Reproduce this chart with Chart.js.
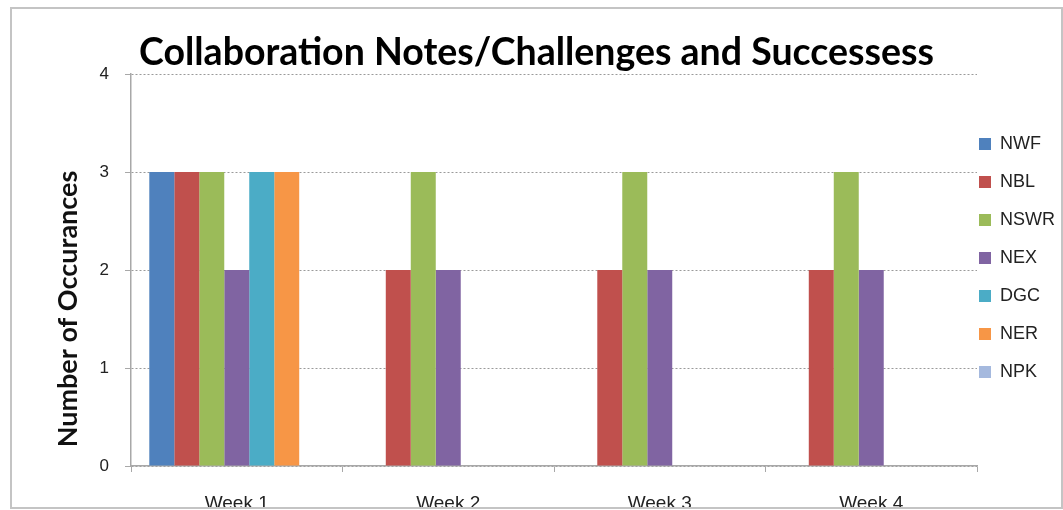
<!DOCTYPE html>
<html>
<head>
<meta charset="utf-8">
<script src="https://cdn.jsdelivr.net/npm/chart.js@4"></script>
<style>
  body { margin: 0; background: #fff; }
  #clip { position: relative; width: 1063px; height: 509px; overflow: hidden; }
  #wrap { position: absolute; left: 0; top: 0; }
  #frame { position: absolute; left: 10px; top: 7px; width: 1053px; height: 502px;
           box-sizing: border-box; border: 2px solid #c4c4c4; pointer-events: none; }
</style>
</head>
<body>
<div id="clip">
  <div id="wrap"><canvas id="notesChart" width="1063" height="540"></canvas></div>
  <div id="frame"></div>
</div>
<script>
const weeks = ['Week 1', 'Week 2', 'Week 3', 'Week 4'];
const nwf  = [3, 0, 0, 0];
const nbl  = [3, 2, 2, 2];
const nswr = [3, 3, 3, 3];
const nex  = [2, 2, 2, 2];
const dgc  = [3, 0, 0, 0];
const ner  = [3, 0, 0, 0];
const npk  = [0, 0, 0, 0];
const yTicks = [0, 1, 2, 3, 4];

const axisGray = '#a8a8a8';

// y axis title sits below the middle in the original
const axisTitle = {
    id: 'axisTitle',
    afterDraw(chart) {
        const ctx = chart.ctx;
        const area = chart.chartArea;
        ctx.save();
        ctx.translate(68, (area.top + area.bottom) / 2 + 39);
        ctx.rotate(-Math.PI / 2);
        ctx.font = 'bold 27px Lato, sans-serif';
        ctx.fillStyle = '#111';
        ctx.textAlign = 'center';
        ctx.textBaseline = 'middle';
        ctx.fillText('Number of Occurances', 0, 0);
        ctx.restore();
    }
};

// pull the legend closer to the plot and a bit higher (keep its right edge so text isn't clipped)
const legendShift = {
    id: 'legendShift',
    afterLayout(chart) {
        chart.legend.left -= 18;
        chart.legend.right = chart.width;
        chart.legend.top -= 12;
        chart.legend.bottom -= 12;
    }
};

const bar = (label, data, color) => ({
    label: label,
    data: data,
    backgroundColor: color,
    borderWidth: 0,
    categoryPercentage: 0.827,
    barPercentage: 1
});

new Chart(document.getElementById('notesChart'), {
    type: 'bar',
    data: {
        labels: weeks,
        datasets: [
            bar('NWF', nwf, '#4F81BD'),
            bar('NBL', nbl, '#C0504D'),
            bar('NSWR', nswr, '#9BBB59'),
            bar('NEX', nex, '#8064A2'),
            bar('DGC', dgc, '#4BACC6'),
            bar('NER', ner, '#F79646'),
            bar('NPK', npk, '#A5B9DE')
        ]
    },
    options: {
        responsive: false,
        animation: false,
        layout: { padding: { left: 10, right: 0, top: 0, bottom: 24 } },
        plugins: {
            title: {
                display: true,
                text: 'Collaboration Notes/Challenges and Successess',
                color: '#000',
                font: { family: 'Lato', size: 37.5, weight: 'bold', lineHeight: 1 },
                padding: { top: 34.5, bottom: 2 }
            },
            legend: {
                position: 'right',
                fullSize: false,
                maxWidth: 86,
                labels: {
                    boxWidth: 12,
                    boxHeight: 12,
                    padding: 20,
                    color: '#222',
                    font: { family: 'Liberation Sans', size: 18 }
                }
            },
            tooltip: { enabled: false }
        },
        scales: {
            x: {
                afterFit: (scale) => { scale.height = 50; },
                grid: { drawOnChartArea: false, drawTicks: true, tickLength: 6, color: axisGray, offset: true },
                border: { color: axisGray, width: 1.5 },
                ticks: { padding: 20, color: '#222', font: { family: 'Liberation Sans', size: 19 } }
            },
            y: {
                min: 0,
                max: 4,
                afterFit: (scale) => { scale.width = 121; },
                afterBuildTicks: (scale) => { scale.ticks = yTicks.map(v => ({ value: v })); },
                grid: { color: '#9a9a9a', tickColor: axisGray, tickLength: 6, tickBorderDash: [] },
                border: { color: axisGray, width: 1.5, dash: [2, 2] },
                ticks: { padding: 16, color: '#222', font: { family: 'Liberation Sans', size: 17 } }
            }
        }
    },
    plugins: [axisTitle, legendShift]
});
</script>
</body>
</html>
